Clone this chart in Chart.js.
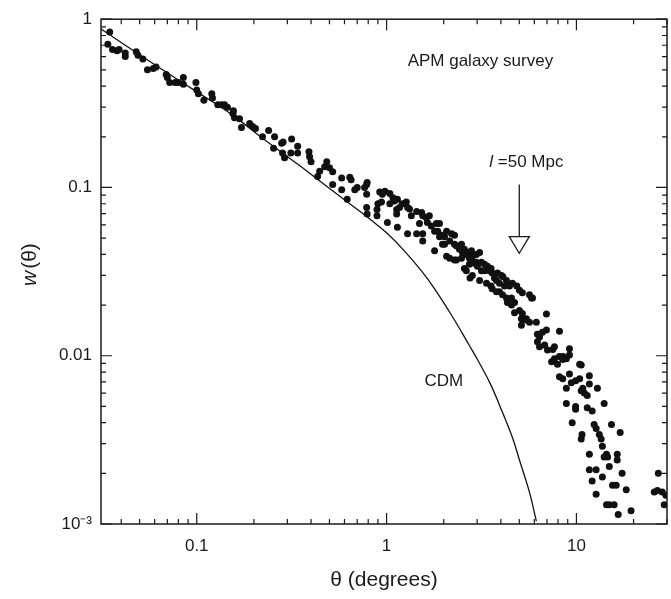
<!DOCTYPE html>
<html>
<head>
<meta charset="utf-8">
<script src="https://cdn.jsdelivr.net/npm/chart.js"></script>
<style>
  html, body { margin: 0; padding: 0; background: #fff; }
</style>
</head>
<body>
<canvas id="ChartAPM" width="671" height="599"></canvas>
<script>
// APM galaxy survey, angular correlation w(theta) -- small angles
const thetaSmall = [0.0348,0.034,0.036,0.038,0.039,0.042,0.042,0.048,0.049,0.052,0.055,0.059,0.061,0.069,0.070,0.072,0.077,0.080,0.085,0.085,0.099,0.100,0.102,0.109,0.120,0.121,0.129,0.135,0.140,0.145,0.155,0.158,0.156,0.168,0.172,0.190,0.197,0.204,0.222,0.239,0.257,0.254,0.28,0.285,0.283,0.29,0.316,0.313,0.34,0.34];
const wSmall     = [0.84,0.71,0.66,0.65,0.66,0.63,0.60,0.64,0.61,0.58,0.50,0.51,0.52,0.47,0.45,0.42,0.42,0.42,0.45,0.41,0.42,0.38,0.36,0.33,0.36,0.34,0.31,0.31,0.31,0.30,0.275,0.26,0.286,0.256,0.227,0.24,0.23,0.224,0.20,0.218,0.20,0.171,0.183,0.186,0.16,0.15,0.194,0.16,0.176,0.16];

// intermediate angles
const thetaMid = [0.39,0.393,0.40,0.444,0.484,0.472,0.50,0.52,0.433,0.52,0.58,0.58,0.64,0.65,0.62,0.68,0.70,0.766,0.785,0.79,0.785,0.785,0.79,0.89,0.90,0.94,0.92,0.95,1.04,0.89,1.01,1.14,1.10,1.14,1.13,1.13,1.17,1.27,1.29,1.32,1.35,1.44,1.53,1.55,1.62,1.68,1.29,1.44,1.55,1.55,1.72,1.83,1.90,1.79,1.86,1.79,2.02,2.07,1.95,2.07,2.20,2.28,2.28,2.33,2.48,2.57,2.67,2.28,2.63,2.83,2.80,2.97,3.01,2.02,2.15,2.42,2.57,2.73,1.64,1.49,1.04,1.90,1.97,2.15,2.33,2.57,2.51,1.21,1.08,0.98,2.73,2.48];
const wMid     = [0.163,0.152,0.142,0.125,0.142,0.133,0.131,0.124,0.116,0.104,0.114,0.097,0.115,0.111,0.085,0.097,0.100,0.100,0.104,0.107,0.091,0.076,0.0695,0.074,0.080,0.082,0.094,0.091,0.092,0.068,0.062,0.058,0.083,0.085,0.074,0.0695,0.076,0.082,0.076,0.0744,0.068,0.072,0.071,0.068,0.066,0.068,0.053,0.053,0.053,0.048,0.059,0.061,0.061,0.055,0.055,0.042,0.046,0.039,0.052,0.055,0.053,0.052,0.046,0.045,0.046,0.043,0.041,0.037,0.032,0.030,0.038,0.036,0.034,0.051,0.048,0.043,0.040,0.038,0.062,0.061,0.080,0.051,0.046,0.038,0.037,0.033,0.041,0.080,0.087,0.095,0.035,0.038];

// large angles
const thetaLarge = [2.80,2.83,2.97,3.09,2.90,3.16,3.16,2.75,3.28,3.40,3.55,3.60,3.84,4.03,4.10,3.09,3.36,3.55,3.60,3.79,3.93,4.08,4.28,4.33,4.55,4.44,4.60,4.72,4.55,4.72,5.01,5.19,5.66,5.87,5.01,5.19,5.13,5.32,5.45,5.66,5.13,6.15,6.95,6.23,6.39,6.62,6.95,6.23,6.39,8.14,7.04,7.66,9.19,7.66,8.14,8.85,9.19,3.79,4.28,4.85,3.48,3.28,3.70,4.18,3.93,5.8,6.8,7.5,8.5];
const wLarge     = [0.042,0.039,0.040,0.041,0.0355,0.036,0.032,0.029,0.032,0.034,0.033,0.031,0.031,0.030,0.0295,0.028,0.027,0.026,0.025,0.024,0.024,0.023,0.022,0.0207,0.022,0.026,0.027,0.0207,0.020,0.018,0.0245,0.0237,0.023,0.022,0.0186,0.0178,0.0166,0.0163,0.0166,0.0158,0.0152,0.0158,0.0177,0.0134,0.0129,0.0138,0.0142,0.0121,0.0113,0.0140,0.0108,0.0113,0.0110,0.0096,0.0099,0.0096,0.0101,0.028,0.028,0.026,0.032,0.035,0.029,0.026,0.027,0.022,0.0116,0.0109,0.0099];

// tail of the distribution
const thetaTail = [7.4,7.95,8.47,10.4,10.6,8.14,8.47,9.19,9.4,9.9,10.4,11.7,12.9,10.6,11.0,11.4,8.85,9.9,9.9,11.4,12.1,14.0,9.5,12.4,12.7,15.3,10.6,10.7,13.2,13.5,17.0,11.7,13.7,14.4,14.0,14.6,16.4,16.4,14.9,11.7,12.7,13.7,17.4,12.1,15.5,16.2,18.3,12.7,14.4,14.9,15.8,16.6,19.4,27,25.7,26.7,28.3,29.6,29.0,8.85,10.8,11.7];
const wTail     = [0.0092,0.0089,0.0095,0.0089,0.0088,0.0075,0.0073,0.0078,0.0069,0.0071,0.0073,0.0076,0.0064,0.0062,0.0060,0.0058,0.0052,0.0050,0.0048,0.0049,0.0047,0.0052,0.0040,0.0039,0.0037,0.0039,0.0032,0.0034,0.0034,0.0032,0.0035,0.0026,0.0029,0.0026,0.0025,0.0025,0.0026,0.0024,0.0022,0.0021,0.0021,0.0019,0.0020,0.0018,0.0017,0.0017,0.0016,0.0015,0.0013,0.0013,0.0013,0.00114,0.0012,0.0020,0.00155,0.00158,0.00155,0.00148,0.0013,0.0064,0.0064,0.0068];

// CDM model curve
const thetaCdm = [0.0313,0.0566,0.104,0.153,0.222,0.348,0.45,0.624,0.834,1.01,1.24,1.53,1.79,2.2,2.73,3.01,3.5,3.93,4.60,5.01,5.66,6.15];
const wCdm     = [0.875,0.561,0.360,0.271,0.196,0.135,0.108,0.0817,0.0637,0.0532,0.0420,0.0318,0.0250,0.0174,0.0115,0.0095,0.0069,0.0051,0.00327,0.0024,0.00154,0.00104];

const xTickValues = [0.1, 1, 10];
const xTickLabels = ['0.1', '1', '10'];
const yTickValues = [0.001, 0.01, 0.1, 1];
const yTickLabels = ['10\u207B\u00B3', '0.01', '0.1', '1'];

const FONT = '"Liberation Sans", Arial, Helvetica, sans-serif';
const INK = '#1a1a1a';

function pairs(xs, ys) {
    return xs.map(function (v, i) { return { x: v, y: ys[i] }; });
}

const obsPoints = [].concat(
    pairs(thetaSmall, wSmall),
    pairs(thetaMid, wMid),
    pairs(thetaLarge, wLarge),
    pairs(thetaTail, wTail)
);

// box + inward ticks on all four sides
const frameTicks = {
    id: 'frameTicks',
    afterDatasetsDraw(chart) {
        const { ctx, chartArea: a, scales: { x, y } } = chart;
        ctx.save();
        ctx.strokeStyle = INK;
        ctx.lineWidth = 1.5;
        ctx.strokeRect(a.left, a.top, a.right - a.left, a.bottom - a.top);
        ctx.lineWidth = 1.2;
        ctx.beginPath();
        for (let d = -2; d <= 1; d++) {
            for (let m = 1; m <= 9; m++) {
                const v = m * Math.pow(10, d);
                if (v < x.min || v > x.max) continue;
                const px = x.getPixelForValue(v);
                const len = m === 1 ? 11 : 5;
                ctx.moveTo(px, a.bottom); ctx.lineTo(px, a.bottom - len);
                ctx.moveTo(px, a.top); ctx.lineTo(px, a.top + len);
            }
        }
        for (let d = -3; d <= 0; d++) {
            for (let m = 1; m <= 9; m++) {
                const v = m * Math.pow(10, d);
                if (v < y.min || v > y.max) continue;
                const py = y.getPixelForValue(v);
                const len = m === 1 ? 11 : 5;
                ctx.moveTo(a.left, py); ctx.lineTo(a.left + len, py);
                ctx.moveTo(a.right, py); ctx.lineTo(a.right - len, py);
            }
        }
        ctx.stroke();
        ctx.restore();
    }
};

// labels, arrow and the y title
const notes = {
    id: 'notes',
    afterDraw(chart) {
        const { ctx, chartArea: a, scales: { x, y } } = chart;
        ctx.save();
        ctx.fillStyle = INK;
        ctx.strokeStyle = INK;
        ctx.textBaseline = 'middle';
        ctx.font = '17px ' + FONT;
        ctx.textAlign = 'center';
        ctx.fillText('APM galaxy survey', x.getPixelForValue(3.12), y.getPixelForValue(0.56));
        ctx.fillText('CDM', x.getPixelForValue(2.0), y.getPixelForValue(0.00705));

        // "l =50 Mpc" with italic l
        const lx = x.getPixelForValue(5.45), ly = y.getPixelForValue(0.142);
        ctx.font = 'italic 17px ' + FONT;
        const w1 = ctx.measureText('l').width;
        ctx.font = '17px ' + FONT;
        const rest = ' =50 Mpc';
        const w2 = ctx.measureText(rest).width;
        const start = lx - (w1 + w2) / 2;
        ctx.textAlign = 'left';
        ctx.font = 'italic 17px ' + FONT;
        ctx.fillText('l', start, ly);
        ctx.font = '17px ' + FONT;
        ctx.fillText(rest, start + w1, ly);

        // arrow at theta = 5 deg
        const ax = x.getPixelForValue(5.0);
        const yTop = y.getPixelForValue(0.104);
        const yBase = y.getPixelForValue(0.051);
        const yTip = y.getPixelForValue(0.0406);
        ctx.lineWidth = 1.3;
        ctx.beginPath();
        ctx.moveTo(ax, yTop); ctx.lineTo(ax, yBase);
        ctx.moveTo(ax - 10, yBase); ctx.lineTo(ax + 10, yBase); ctx.lineTo(ax, yTip); ctx.closePath();
        ctx.stroke();

        // y title: italic w + (θ)
        ctx.translate(30, (a.top + a.bottom) / 2 - 6);
        ctx.rotate(-Math.PI / 2);
        ctx.font = 'italic 21px ' + FONT;
        const tw1 = ctx.measureText('w').width;
        ctx.font = '21px ' + FONT;
        const tw2 = ctx.measureText('(θ)').width;
        const s = -(tw1 + tw2) / 2;
        ctx.font = 'italic 21px ' + FONT;
        ctx.fillText('w', s, 0);
        ctx.font = '21px ' + FONT;
        ctx.fillText('(θ)', s + tw1 + 2, 0);
        ctx.restore();
    }
};

const ChartAPM = document.getElementById('ChartAPM');
new Chart(ChartAPM, {
    type: 'scatter',
    data: {
        datasets: [
            {
                label: 'APM galaxy survey',
                data: obsPoints,
                pointRadius: 3.5,
                pointBackgroundColor: '#111',
                pointBorderWidth: 0,
                showLine: false,
            },
            {
                label: 'CDM',
                data: pairs(thetaCdm, wCdm),
                showLine: true,
                pointRadius: 0,
                borderColor: '#111',
                borderWidth: 1.3,
                tension: 0.4,
            }
        ]
    },
    options: {
        responsive: false,
        animation: false,
        layout: { padding: { top: 12, right: 3, left: 0, bottom: 0 } },
        plugins: {
            legend: { display: false },
            tooltip: { enabled: false },
        },
        scales: {
            x: {
                type: 'logarithmic',
                min: 0.0313,
                max: 30,
                grid: { display: false, drawTicks: false },
                border: { display: false },
                afterBuildTicks: function (s) { s.ticks = xTickValues.map(function (v) { return { value: v }; }); },
                afterFit: function (s) { s.height = 75; },
                ticks: {
                    autoSkip: false,
                    maxRotation: 0,
                    padding: 12,
                    color: INK,
                    font: { family: FONT, size: 17 },
                    callback: function (v, i) { return xTickLabels[i]; }
                },
                title: {
                    display: true,
                    text: 'θ (degrees)',
                    color: INK,
                    font: { family: FONT, size: 21 },
                    padding: { top: 0, bottom: 6 }
                }
            },
            y: {
                type: 'logarithmic',
                min: 0.001,
                max: 1,
                grid: { display: false, drawTicks: false },
                border: { display: false },
                afterBuildTicks: function (s) { s.ticks = yTickValues.map(function (v) { return { value: v }; }); },
                afterFit: function (s) { s.width = 101; },
                ticks: {
                    autoSkip: false,
                    padding: 9,
                    color: INK,
                    font: { family: FONT, size: 17 },
                    callback: function (v, i) { return yTickLabels[i]; }
                }
            }
        }
    },
    plugins: [frameTicks, notes]
});
</script>
</body>
</html>
